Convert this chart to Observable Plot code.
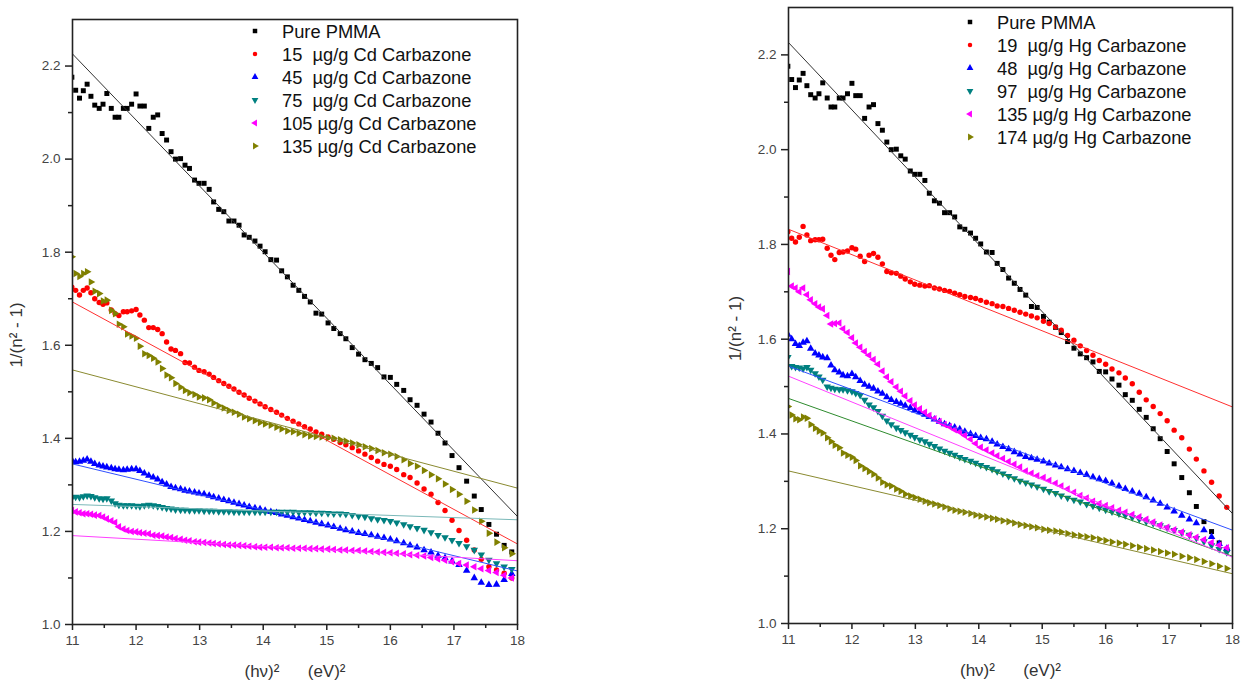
<!DOCTYPE html>
<html>
<head>
<meta charset="utf-8">
<script src="https://cdn.jsdelivr.net/npm/d3@7"></script>
<script src="https://cdn.jsdelivr.net/npm/@observablehq/plot@0.6"></script>
<style>
  html, body { margin: 0; padding: 0; background: #fff; }
  #wrap { position: relative; width: 1248px; height: 683px; overflow: hidden; font-family: "Liberation Sans", Arial, sans-serif; }
  .panel { position: absolute; top: 0; }
  .legend { position: absolute; font-size: 18.3px; line-height: 23px; color: #111; white-space: pre; }
  .legend .row { display: flex; align-items: center; height: 23px; }
  .legend svg { width: 14px; height: 14px; margin-right: 20px; overflow: visible; }
  g[aria-label="x-axis tick label"], g[aria-label="y-axis tick label"] { font-size: 13.5px !important; }
</style>
</head>
<body>
<div id="wrap"></div>
<script>
// ---------------- data ----------------
// photon energy squared, (hv)^2 in (eV)^2 — shared by every series
const xGrid = [
  10.99, 11.05, 11.11, 11.17, 11.23, 11.29, 11.35, 11.42, 11.48, 11.54,
  11.61, 11.67, 11.73, 11.80, 11.86, 11.93, 12.00, 12.06, 12.13, 12.20,
  12.27, 12.34, 12.41, 12.48, 12.55, 12.62, 12.70, 12.77, 12.84, 12.92,
  12.99, 13.07, 13.15, 13.22, 13.30, 13.38, 13.46, 13.54, 13.62, 13.70,
  13.78, 13.87, 13.95, 14.03, 14.12, 14.21, 14.29, 14.38, 14.47, 14.56,
  14.65, 14.74, 14.83, 14.92, 15.02, 15.11, 15.21, 15.30, 15.40, 15.50,
  15.60, 15.70, 15.80, 15.90, 16.00, 16.10, 16.21, 16.31, 16.42, 16.53,
  16.64, 16.75, 16.86, 16.97, 17.08, 17.20, 17.32, 17.43, 17.55, 17.67,
  17.79, 17.91];

const pmma = [
  2.176, 2.148, 2.131, 2.147, 2.161, 2.135, 2.116, 2.109, 2.118, 2.141,
  2.109, 2.090, 2.090, 2.109, 2.109, 2.118, 2.140, 2.114, 2.114, 2.066,
  2.090, 2.095, 2.055, 2.041, 2.016, 2.000, 2.001, 1.987, 1.980, 1.955,
  1.948, 1.948, 1.935, 1.908, 1.892, 1.887, 1.867, 1.867, 1.858, 1.837,
  1.832, 1.824, 1.813, 1.801, 1.784, 1.783, 1.760, 1.747, 1.729, 1.718,
  1.705, 1.693, 1.669, 1.667, 1.648, 1.636, 1.625, 1.614, 1.595, 1.581,
  1.569, 1.561, 1.552, 1.532, 1.531, 1.516, 1.503, 1.483, 1.471, 1.452,
  1.435, 1.411, 1.390, 1.363, 1.337, 1.308, 1.276, 1.247, 1.215, 1.194,
  1.170, 1.156];

// Cd carbazone panel
const cd15 = [
  1.725, 1.718, 1.708, 1.718, 1.723, 1.713, 1.700, 1.692, 1.688, 1.691,
  1.676, 1.668, 1.664, 1.672, 1.672, 1.674, 1.677, 1.665, 1.654, 1.638,
  1.638, 1.634, 1.625, 1.607, 1.592, 1.589, 1.582, 1.563, 1.562, 1.553,
  1.546, 1.543, 1.538, 1.531, 1.524, 1.518, 1.512, 1.506, 1.499, 1.493,
  1.486, 1.480, 1.474, 1.468, 1.462, 1.456, 1.450, 1.443, 1.437, 1.431,
  1.425, 1.420, 1.414, 1.409, 1.403, 1.398, 1.391, 1.386, 1.380, 1.373,
  1.366, 1.359, 1.351, 1.344, 1.340, 1.333, 1.322, 1.316, 1.304, 1.291,
  1.280, 1.262, 1.245, 1.224, 1.202, 1.181, 1.160, 1.140, 1.124, 1.117,
  1.110, 1.100];
const cd45 = [
  1.353, 1.349, 1.350, 1.352, 1.355, 1.350, 1.345, 1.342, 1.340, 1.338,
  1.336, 1.334, 1.333, 1.332, 1.333, 1.334, 1.334, 1.330, 1.325, 1.320,
  1.316, 1.312, 1.306, 1.301, 1.296, 1.293, 1.291, 1.288, 1.286, 1.284,
  1.282, 1.280, 1.277, 1.274, 1.271, 1.268, 1.265, 1.262, 1.259, 1.256,
  1.253, 1.250, 1.248, 1.245, 1.242, 1.240, 1.237, 1.234, 1.231, 1.228,
  1.225, 1.222, 1.219, 1.216, 1.213, 1.210, 1.206, 1.203, 1.200, 1.197,
  1.195, 1.192, 1.189, 1.186, 1.183, 1.179, 1.175, 1.170, 1.166, 1.160,
  1.155, 1.148, 1.143, 1.136, 1.128, 1.116, 1.100, 1.090, 1.085, 1.086,
  1.096, 1.109];
const cd75 = [
  1.272, 1.274, 1.273, 1.275, 1.277, 1.276, 1.273, 1.271, 1.270, 1.271,
  1.266, 1.260, 1.257, 1.256, 1.256, 1.256, 1.255, 1.254, 1.256, 1.257,
  1.256, 1.254, 1.252, 1.250, 1.249, 1.247, 1.246, 1.246, 1.245, 1.245,
  1.245, 1.244, 1.244, 1.244, 1.243, 1.243, 1.243, 1.242, 1.242, 1.242,
  1.242, 1.242, 1.242, 1.242, 1.242, 1.242, 1.242, 1.242, 1.242, 1.241,
  1.241, 1.241, 1.240, 1.240, 1.239, 1.238, 1.238, 1.237, 1.235, 1.233,
  1.231, 1.228, 1.226, 1.224, 1.222, 1.219, 1.215, 1.211, 1.207, 1.203,
  1.198, 1.192, 1.187, 1.181, 1.175, 1.168, 1.160, 1.150, 1.139, 1.131,
  1.124, 1.119];
const cd105 = [
  1.245, 1.242, 1.240, 1.238, 1.238, 1.237, 1.235, 1.234, 1.231, 1.227,
  1.223, 1.219, 1.210, 1.205, 1.202, 1.200, 1.199, 1.197, 1.196, 1.195,
  1.192, 1.191, 1.190, 1.188, 1.187, 1.185, 1.183, 1.181, 1.180, 1.178,
  1.177, 1.176, 1.175, 1.174, 1.173, 1.172, 1.171, 1.171, 1.170, 1.169,
  1.168, 1.167, 1.166, 1.166, 1.166, 1.165, 1.165, 1.165, 1.164, 1.164,
  1.164, 1.163, 1.163, 1.162, 1.162, 1.161, 1.160, 1.160, 1.159, 1.159,
  1.158, 1.157, 1.156, 1.155, 1.154, 1.153, 1.152, 1.150, 1.149, 1.147,
  1.144, 1.141, 1.138, 1.135, 1.131, 1.128, 1.124, 1.120, 1.116, 1.112,
  1.106, 1.100];
const cd135 = [
  1.790, 1.754, 1.748, 1.754, 1.758, 1.736, 1.716, 1.711, 1.695, 1.697,
  1.675, 1.668, 1.645, 1.640, 1.624, 1.620, 1.615, 1.598, 1.582, 1.578,
  1.572, 1.564, 1.550, 1.536, 1.530, 1.518, 1.510, 1.503, 1.498, 1.494,
  1.489, 1.487, 1.483, 1.476, 1.470, 1.465, 1.460, 1.456, 1.452, 1.446,
  1.442, 1.438, 1.434, 1.431, 1.428, 1.424, 1.420, 1.416, 1.414, 1.411,
  1.408, 1.405, 1.404, 1.403, 1.401, 1.400, 1.397, 1.394, 1.390, 1.386,
  1.382, 1.378, 1.374, 1.369, 1.366, 1.361, 1.354, 1.346, 1.340, 1.331,
  1.322, 1.313, 1.302, 1.290, 1.280, 1.265, 1.246, 1.222, 1.196, 1.177,
  1.165, 1.152];

// Hg carbazone panel
const hg19 = [
  1.827, 1.813, 1.805, 1.815, 1.838, 1.820, 1.808, 1.810, 1.810, 1.811,
  1.792, 1.777, 1.768, 1.783, 1.784, 1.786, 1.793, 1.790, 1.775, 1.764,
  1.777, 1.781, 1.773, 1.759, 1.743, 1.740, 1.739, 1.733, 1.727, 1.721,
  1.716, 1.714, 1.712, 1.713, 1.708, 1.706, 1.703, 1.701, 1.697, 1.694,
  1.690, 1.688, 1.686, 1.682, 1.678, 1.675, 1.670, 1.669, 1.665, 1.661,
  1.657, 1.653, 1.649, 1.645, 1.638, 1.633, 1.626, 1.619, 1.608, 1.598,
  1.586, 1.576, 1.566, 1.555, 1.547, 1.537, 1.529, 1.518, 1.506, 1.488,
  1.472, 1.458, 1.443, 1.428, 1.408, 1.392, 1.368, 1.347, 1.322, 1.298,
  1.269, 1.245];
const hg48 = [
  1.610, 1.600, 1.590, 1.586, 1.593, 1.596, 1.580, 1.570, 1.566, 1.562,
  1.560, 1.545, 1.535, 1.530, 1.524, 1.522, 1.527, 1.520, 1.512, 1.504,
  1.500, 1.496, 1.490, 1.485, 1.478, 1.472, 1.468, 1.464, 1.460, 1.455,
  1.450, 1.446, 1.441, 1.436, 1.431, 1.426, 1.421, 1.417, 1.414, 1.410,
  1.405, 1.400, 1.396, 1.392, 1.389, 1.384, 1.378, 1.373, 1.368, 1.362,
  1.357, 1.352, 1.349, 1.346, 1.342, 1.338, 1.334, 1.330, 1.326, 1.322,
  1.318, 1.314, 1.309, 1.305, 1.301, 1.296, 1.290, 1.284, 1.279, 1.274,
  1.267, 1.260, 1.253, 1.245, 1.237, 1.228, 1.220, 1.212, 1.197, 1.183,
  1.168, 1.158];
const hg97 = [
  1.562, 1.543, 1.541, 1.540, 1.538, 1.541, 1.535, 1.528, 1.521, 1.514,
  1.500, 1.497, 1.495, 1.494, 1.494, 1.492, 1.490, 1.486, 1.482, 1.472,
  1.462, 1.456, 1.448, 1.438, 1.428, 1.420, 1.413, 1.408, 1.403, 1.398,
  1.393, 1.388, 1.384, 1.379, 1.374, 1.369, 1.364, 1.360, 1.356, 1.351,
  1.347, 1.343, 1.339, 1.334, 1.330, 1.326, 1.321, 1.316, 1.311, 1.306,
  1.301, 1.297, 1.293, 1.289, 1.284, 1.279, 1.275, 1.270, 1.265, 1.261,
  1.257, 1.252, 1.248, 1.244, 1.240, 1.236, 1.232, 1.228, 1.224, 1.220,
  1.215, 1.211, 1.207, 1.202, 1.197, 1.192, 1.187, 1.180, 1.173, 1.165,
  1.157, 1.150];
const hg135 = [
  1.743, 1.712, 1.708, 1.700, 1.708, 1.694, 1.683, 1.675, 1.668, 1.664,
  1.650, 1.632, 1.633, 1.634, 1.622, 1.614, 1.603, 1.592, 1.583, 1.574,
  1.566, 1.557, 1.547, 1.533, 1.520, 1.510, 1.499, 1.490, 1.480, 1.470,
  1.461, 1.453, 1.446, 1.439, 1.432, 1.426, 1.420, 1.415, 1.409, 1.404,
  1.397, 1.389, 1.380, 1.372, 1.366, 1.360, 1.354, 1.348, 1.342, 1.336,
  1.330, 1.322, 1.317, 1.312, 1.308, 1.302, 1.296, 1.290, 1.284, 1.277,
  1.270, 1.265, 1.258, 1.253, 1.249, 1.244, 1.239, 1.235, 1.230, 1.225,
  1.220, 1.214, 1.208, 1.203, 1.198, 1.193, 1.187, 1.182, 1.177, 1.171,
  1.165, 1.160];
const hg174 = [
  1.458, 1.440, 1.432, 1.430, 1.436, 1.433, 1.420, 1.412, 1.406, 1.402,
  1.392, 1.384, 1.376, 1.371, 1.360, 1.355, 1.351, 1.344, 1.333, 1.327,
  1.321, 1.315, 1.307, 1.298, 1.293, 1.290, 1.284, 1.279, 1.273, 1.269,
  1.266, 1.262, 1.258, 1.255, 1.252, 1.249, 1.246, 1.242, 1.239, 1.237,
  1.235, 1.232, 1.229, 1.227, 1.225, 1.222, 1.220, 1.217, 1.215, 1.212,
  1.209, 1.207, 1.204, 1.202, 1.199, 1.197, 1.195, 1.193, 1.190, 1.187,
  1.185, 1.183, 1.181, 1.178, 1.175, 1.172, 1.170, 1.167, 1.164, 1.161,
  1.158, 1.155, 1.152, 1.149, 1.146, 1.142, 1.139, 1.135, 1.131, 1.126,
  1.121, 1.116];

// linear fits: value at x = 11 and at x = 18
const fitX = [11, 18];
const fitPmma  = [2.226, 1.232];
const fitCd15  = [1.693, 1.173];
const fitCd45  = [1.345, 1.115];
const fitCd75  = [1.258, 1.225];
const fitCd105 = [1.191, 1.137];
const fitCd135 = [1.547, 1.293];
const fitHg19  = [1.832, 1.457];
const fitHg48  = [1.543, 1.197];
const fitHg97  = [1.475, 1.142];
const fitHg135 = [1.522, 1.140];
const fitHg174 = [1.322, 1.105];

// legend labels
const cdLabels = ["Pure PMMA", "15  \u00b5g/g Cd Carbazone", "45  \u00b5g/g Cd Carbazone",
  "75  \u00b5g/g Cd Carbazone", "105 \u00b5g/g Cd Carbazone", "135 \u00b5g/g Cd Carbazone"];
const hgLabels = ["Pure PMMA", "19  \u00b5g/g Hg Carbazone", "48  \u00b5g/g Hg Carbazone",
  "97  \u00b5g/g Hg Carbazone", "135 \u00b5g/g Hg Carbazone", "174 \u00b5g/g Hg Carbazone"];

// axes
const xTicks = [11, 12, 13, 14, 15, 16, 17, 18];
const xMinor = [11.5, 12.5, 13.5, 14.5, 15.5, 16.5, 17.5];
const yTicks = [1.0, 1.2, 1.4, 1.6, 1.8, 2.0, 2.2];
const yMinor = [1.1, 1.3, 1.5, 1.7, 1.9, 2.1];
const xLabel = "(h\u03bd)\u00b2\u00a0\u00a0\u00a0\u00a0\u00a0\u00a0(eV)\u00b2";
const yLabel = "1/(n\u00b2 - 1)";

// ---------------- styling ----------------
function tri(angle) {
  return {
    draw(ctx, size) {
      const r = Math.sqrt(size / 1.299);
      for (let k = 0; k < 3; k++) {
        const a = angle + k * 2 * Math.PI / 3;
        const px = r * Math.cos(a), py = r * Math.sin(a);
        if (k === 0) ctx.moveTo(px, py); else ctx.lineTo(px, py);
      }
      ctx.closePath();
    }
  };
}
const symbols = [d3.symbolSquare, d3.symbolCircle, tri(-Math.PI / 2), tri(Math.PI / 2), tri(Math.PI), tri(0)];
const radii = [2.8, 2.7, 2.8, 2.8, 2.8, 2.8];
const dotColors = ["#000000", "#ff0000", "#0000ff", "#008080", "#ff00ff", "#808000"];
const cdLineColors = ["#333333", "#ff3030", "#3050ff", "#7ab8b8", "#ff40ff", "#8a8a30"];
const hgLineColors = ["#333333", "#ff3030", "#3050ff", "#2e8b2e", "#ff40ff", "#8a8a30"];

function makePanel(seriesVals, fits, lineColors, m) {
  const marks = [];
  seriesVals.forEach((vals, s) => {
    const rows = xGrid.map((x, i) => ({x, y: vals[i]}));
    marks.push(Plot.dot(rows, {x: "x", y: "y", r: radii[s], symbol: symbols[s], fill: dotColors[s], stroke: "none", clip: true}));
  });
  fits.forEach((f, s) => {
    const rows = fitX.map((x, i) => ({x, y: f[i]}));
    marks.push(Plot.line(rows, {x: "x", y: "y", stroke: lineColors[s], strokeWidth: 1, clip: true}));
  });
  marks.push(
    Plot.axisX(xTicks, {tickSize: 6, tickPadding: 5, fontSize: 13.5, label: null, stroke: "#222", strokeWidth: 1.5, fill: "#444", tickFormat: d => String(d)}),
    Plot.axisX(xMinor, {tickSize: 4, label: null, stroke: "#222", strokeWidth: 1.5, tickFormat: () => ""}),
    Plot.axisY(yTicks, {tickSize: 7, tickPadding: 5, fontSize: 13.5, label: null, stroke: "#222", strokeWidth: 1.5, fill: "#444", tickFormat: d3.format(".1f")}),
    Plot.axisY(yMinor, {tickSize: 4, label: null, stroke: "#222", strokeWidth: 1.5, tickFormat: () => ""}),
    Plot.frame({stroke: "#222", strokeWidth: 1.6}),
    Plot.text([yLabel], {text: d => d, frameAnchor: "left", textAnchor: "middle", lineAnchor: "middle", dx: -m.yLabelOffset, dy: 13, rotate: -90, fontSize: 17, fill: "#333"}),
    Plot.text([xLabel], {text: d => d, frameAnchor: "bottom", textAnchor: "middle", lineAnchor: "middle", dy: 47, fontSize: 17, fill: "#333"})
  );
  return Plot.plot({
    width: m.width, height: 683,
    marginLeft: m.left, marginRight: m.right, marginTop: m.top, marginBottom: m.bottom,
    x: {domain: [11, 18]},
    y: {domain: [1.0, 2.3]},
    style: {fontFamily: "Liberation Sans, Arial, sans-serif", fontSize: "13.5px", background: "transparent", overflow: "visible"},
    marks
  });
}

const wrap = document.getElementById("wrap");

function addPanel(node, left) {
  const d = document.createElement("div");
  d.className = "panel";
  d.style.left = left + "px";
  d.appendChild(node);
  wrap.appendChild(d);
}

function addLegend(labels, left, top) {
  const lg = document.createElement("div");
  lg.className = "legend";
  lg.style.left = left + "px";
  lg.style.top = top + "px";
  labels.forEach((lab, s) => {
    const row = document.createElement("div");
    row.className = "row";
    const sv = d3.create("svg").attr("viewBox", "-7 -7 14 14");
    sv.append("path").attr("d", d3.symbol(symbols[s], s === 1 ? 16 : 20)()).attr("fill", dotColors[s]);
    row.appendChild(sv.node());
    const t = document.createElement("span");
    t.textContent = lab;
    row.appendChild(t);
    lg.appendChild(row);
  });
  wrap.appendChild(lg);
}

addPanel(makePanel([pmma, cd15, cd45, cd75, cd105, cd135],
  [fitPmma, fitCd15, fitCd45, fitCd75, fitCd105, fitCd135], cdLineColors,
  {width: 560, left: 72, right: 43, top: 19, bottom: 59, yLabelOffset: 56}), 0);
addPanel(makePanel([pmma, hg19, hg48, hg97, hg135, hg174],
  [fitPmma, fitHg19, fitHg48, fitHg97, fitHg135, fitHg174], hgLineColors,
  {width: 548, left: 88, right: 16, top: 7, bottom: 60, yLabelOffset: 53}), 700);

addLegend(cdLabels, 248, 19.5);
addLegend(hgLabels, 963, 10.5);
</script>
</body>
</html>
